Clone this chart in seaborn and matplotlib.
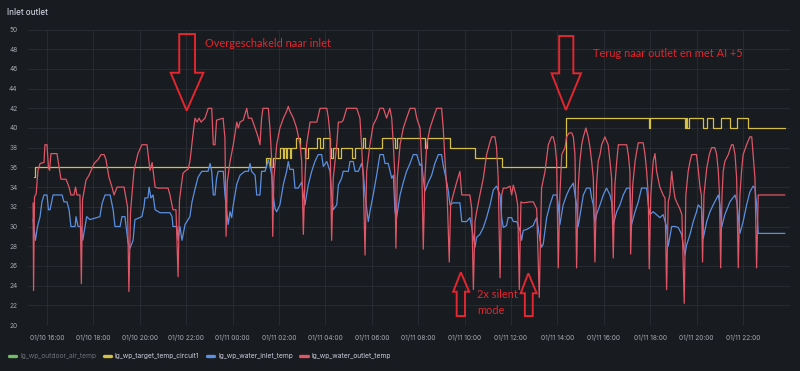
import pandas as pd
import matplotlib
matplotlib.use("Agg")
import matplotlib.pyplot as plt
import matplotlib.dates as mdates
from matplotlib.lines import Line2D
from matplotlib.patches import Polygon
import seaborn as sns

BASE = pd.Timestamp("2024-01-10")  # times below are hours since 01/10 00:00

series_names = ["lg_wp_outdoor_air_temp", "lg_wp_target_temp_circuit1",
                "lg_wp_water_inlet_temp", "lg_wp_water_outlet_temp"]
series_colors = ["#73bf69", "#d6bf45", "#5b8fe0", "#df5667"]
y_ticks = list(range(20, 51, 2))
x_tick_hours = list(range(16, 47, 2))

# target temperature (step changes)
yellow_t = [15.44, 15.48, 25.44, 25.61, 25.74, 26.04, 26.17, 26.22, 26.30, 26.34,
            26.47, 26.52, 26.73, 26.91, 27.12, 27.25, 27.63, 27.77, 27.90, 28.20,
            28.24, 28.33, 28.54, 28.67, 29.15, 29.28, 29.61, 29.71, 30.43, 31.00,
            31.09, 32.29, 32.38, 33.37, 34.45, 35.60, 38.37, 41.95, 41.99, 43.50,
            43.54, 43.61, 43.67, 44.28, 44.45, 44.71, 45.05, 45.44, 45.74, 46.22,
            47.81]
yellow_v = [35, 36, 37, 36, 37, 38, 37, 38, 37, 38,
            37, 38, 39, 38, 37, 38, 39, 38, 39, 38,
            37, 38, 37, 38, 37, 38, 39, 38, 39, 38,
            39, 38, 39, 38, 37, 36, 41, 40, 41, 40,
            41, 40, 41, 40, 41, 40, 41, 40, 41, 40,
            40]

# water inlet temperature
blue_t = [15.40, 15.50, 15.59, 15.70, 15.78, 15.87, 16.00, 16.06, 16.13, 16.26,
          16.65, 16.73, 16.86, 16.95, 17.03, 17.21, 17.25, 17.34, 17.47, 17.54,
          17.71, 17.85, 18.28, 18.37, 18.50, 18.72, 18.85, 18.93, 19.15, 19.23,
          19.36, 19.49, 19.58, 19.71, 19.79, 20.09, 20.18, 20.22, 20.35, 20.40,
          20.48, 20.57, 20.66, 20.87, 21.30, 21.39, 21.43, 21.60, 21.65, 21.73,
          21.82, 21.95, 22.08, 22.16, 22.25, 22.38, 22.51, 22.67, 22.94, 23.03,
          23.10, 23.17, 23.24, 23.31, 23.38, 23.60, 23.67, 23.81, 23.89, 23.96,
          24.03, 24.18, 24.32, 24.53, 24.68, 24.75, 24.82, 24.97, 25.04, 25.18,
          25.25, 25.40, 25.54, 25.69, 25.75, 25.83, 25.90, 26.04, 26.19, 26.33,
          26.40, 26.47, 26.62, 26.69, 26.83, 26.98, 27.05, 27.12, 27.26, 27.41,
          27.55, 27.69, 27.84, 27.91, 28.06, 28.20, 28.27, 28.34, 28.49, 28.56,
          28.70, 28.77, 28.99, 29.06, 29.20, 29.28, 29.42, 29.56, 29.63, 29.71,
          29.85, 29.92, 30.06, 30.21, 30.35, 30.50, 30.57, 30.71, 30.86, 30.93,
          31.00, 31.07, 31.22, 31.36, 31.50, 31.65, 31.79, 31.94, 32.08, 32.15,
          32.22, 32.29, 32.44, 32.58, 32.72, 32.87, 33.01, 33.08, 33.20, 33.30,
          33.37, 33.51, 33.80, 33.88, 34.09, 34.23, 34.31, 34.38, 34.45, 34.52,
          34.66, 34.81, 34.95, 35.10, 35.24, 35.38, 35.53, 35.60, 35.67, 35.81,
          35.88, 36.03, 36.10, 36.25, 36.39, 36.46, 36.53, 36.68, 36.82, 36.96,
          37.03, 37.11, 37.25, 37.32, 37.39, 37.54, 37.68, 37.82, 37.98, 38.04,
          38.11, 38.25, 38.40, 38.54, 38.69, 38.76, 38.83, 38.90, 39.05, 39.12,
          39.26, 39.41, 39.48, 39.55, 39.62, 39.69, 39.84, 39.98, 40.12, 40.27,
          40.34, 40.41, 40.56, 40.70, 40.84, 40.99, 41.13, 41.20, 41.35, 41.49,
          41.63, 41.85, 41.92, 41.99, 42.13, 42.28, 42.42, 42.56, 42.71, 42.78,
          42.93, 43.07, 43.21, 43.36, 43.50, 43.57, 43.72, 43.86, 44.00, 44.07,
          44.22, 44.29, 44.44, 44.58, 44.72, 44.94, 45.01, 45.08, 45.22, 45.44,
          45.66, 45.74, 45.87, 46.01, 46.16, 46.30, 46.44, 46.52, 46.59, 46.66,
          47.81]
blue_v = [30.7, 28.6, 30.0, 31.0, 32.5, 33.2, 33.2, 31.7, 31.7, 33.2,
          33.2, 32.5, 32.5, 31.7, 30.0, 30.0, 31.0, 30.0, 30.0, 28.6,
          31.0, 30.7, 31.0, 32.3, 33.2, 33.2, 31.7, 30.0, 30.0, 31.0,
          31.0, 28.4, 27.8, 28.6, 30.7, 31.0, 32.0, 32.9, 32.9, 34.0,
          32.9, 33.2, 31.7, 31.4, 31.4, 31.0, 30.0, 30.0, 28.6, 30.0,
          28.6, 30.2, 30.7, 31.0, 32.5, 33.8, 35.0, 35.6, 35.6, 36.4,
          35.6, 33.2, 33.2, 34.9, 35.6, 35.6, 33.2, 30.2, 31.5, 30.9,
          32.2, 34.3, 35.2, 35.6, 35.6, 36.4, 35.6, 35.2, 33.2, 33.2,
          35.6, 35.6, 36.8, 35.2, 33.2, 31.8, 31.5, 32.2, 34.3, 35.6,
          36.6, 35.8, 35.8, 33.9, 33.9, 34.5, 33.2, 32.2, 34.2, 35.6,
          36.6, 37.3, 37.3, 36.1, 36.6, 35.6, 33.2, 31.7, 32.2, 34.2,
          34.9, 35.6, 35.6, 36.6, 36.6, 35.6, 35.6, 36.4, 35.6, 33.2,
          30.5, 31.5, 33.2, 35.2, 37.3, 37.3, 36.4, 36.4, 34.9, 35.2,
          31.5, 30.9, 33.2, 34.5, 35.6, 36.4, 37.3, 37.3, 36.2, 36.4,
          34.9, 33.6, 34.5, 35.2, 36.4, 37.3, 37.3, 36.2, 34.9, 33.6,
          32.2, 32.4, 32.4, 30.5, 30.5, 30.9, 29.9, 28.9, 27.9, 28.9,
          29.2, 29.9, 30.9, 32.2, 33.7, 34.1, 33.2, 30.9, 29.9, 30.1,
          30.9, 30.9, 30.5, 30.5, 29.6, 28.6, 29.6, 29.7, 29.9, 30.1,
          30.5, 30.9, 28.6, 27.9, 28.2, 30.9, 32.2, 33.2, 33.2, 32.2,
          30.2, 32.2, 33.2, 33.9, 34.4, 33.2, 32.2, 30.0, 32.2, 33.2,
          33.9, 33.9, 32.9, 32.2, 30.4, 31.2, 32.2, 33.2, 33.9, 33.2,
          32.5, 30.2, 31.5, 32.2, 33.2, 33.9, 33.9, 30.2, 31.5, 32.5,
          33.9, 33.9, 32.2, 31.2, 31.5, 31.2, 30.9, 31.2, 30.0, 28.0,
          30.0, 30.0, 29.9, 29.2, 27.1, 28.1, 29.2, 30.5, 31.5, 32.2,
          31.8, 28.8, 30.5, 31.5, 32.2, 33.2, 32.2, 29.9, 31.2, 32.5,
          33.2, 32.5, 29.3, 30.5, 32.2, 33.5, 34.1, 33.9, 32.2, 29.3,
          29.3]

# water outlet temperature
red_t = [15.40, 15.42, 15.46, 15.53, 15.61, 15.70, 15.87, 15.91, 16.00, 16.06,
         16.11, 16.17, 16.43, 16.52, 16.60, 16.82, 16.95, 17.03, 17.16, 17.23,
         17.29, 17.42, 17.48, 17.53, 17.68, 17.81, 18.03, 18.20, 18.33, 18.46,
         18.54, 18.67, 18.80, 18.89, 19.02, 19.32, 19.47, 19.53, 19.60, 19.75,
         19.92, 20.09, 20.31, 20.44, 20.53, 20.66, 20.78, 21.22, 21.30, 21.43,
         21.56, 21.65, 21.71, 21.86, 21.99, 22.08, 22.16, 22.31, 22.38, 22.47,
         22.55, 22.64, 22.81, 22.95, 23.10, 23.17, 23.24, 23.31, 23.59, 23.67,
         23.72, 23.77, 23.89, 24.03, 24.18, 24.25, 24.32, 24.46, 24.61, 24.68,
         24.82, 24.97, 25.11, 25.18, 25.25, 25.31, 25.54, 25.61, 25.69, 25.73,
         25.78, 25.90, 26.04, 26.19, 26.33, 26.40, 26.47, 26.62, 26.76, 26.91,
         26.98, 27.05, 27.12, 27.19, 27.34, 27.63, 27.77, 28.06, 28.13, 28.20,
         28.27, 28.34, 28.49, 28.56, 28.70, 28.77, 28.92, 29.35, 29.49, 29.56,
         29.63, 29.71, 29.78, 29.92, 30.06, 30.21, 30.35, 30.50, 30.64, 30.78,
         30.86, 30.93, 31.00, 31.04, 31.10, 31.22, 31.36, 31.50, 31.65, 31.86,
         31.94, 32.08, 32.15, 32.22, 32.29, 32.37, 32.51, 32.65, 32.80, 33.01,
         33.08, 33.16, 33.25, 33.34, 33.40, 33.51, 33.66, 33.80, 33.88, 34.23,
         34.31, 34.38, 34.45, 34.52, 34.66, 34.81, 34.95, 35.10, 35.17, 35.31,
         35.38, 35.45, 35.53, 35.60, 35.67, 35.81, 35.96, 36.03, 36.10, 36.22,
         36.29, 36.36, 36.43, 36.53, 36.82, 36.96, 37.11, 37.22, 37.32, 37.47,
         37.61, 37.75, 37.82, 37.90, 37.97, 38.04, 38.11, 38.19, 38.33, 38.40,
         38.51, 38.62, 38.69, 38.76, 38.83, 38.90, 38.97, 39.05, 39.12, 39.23,
         39.33, 39.41, 39.48, 39.55, 39.62, 39.69, 39.76, 39.84, 39.91, 40.05,
         40.19, 40.27, 40.34, 40.41, 40.48, 40.56, 40.63, 40.99, 41.06, 41.13,
         41.16, 41.25, 41.35, 41.42, 41.49, 41.70, 41.78, 41.85, 41.92, 41.96,
         42.03, 42.13, 42.21, 42.28, 42.42, 42.56, 42.64, 42.71, 42.78, 42.85,
         42.93, 43.00, 43.07, 43.14, 43.28, 43.37, 43.47, 43.54, 43.64, 43.72,
         43.79, 44.00, 44.07, 44.15, 44.21, 44.26, 44.32, 44.44, 44.55, 44.65,
         44.79, 44.87, 44.94, 44.99, 45.04, 45.10, 45.15, 45.22, 45.37, 45.51,
         45.58, 45.66, 45.73, 45.80, 45.87, 45.94, 46.01, 46.16, 46.30, 46.38,
         46.44, 46.52, 46.59, 46.66, 47.81]
red_v = [32.4, 23.5, 33.0, 33.3, 35.7, 36.4, 36.5, 38.3, 38.3, 36.0,
         35.7, 37.4, 37.4, 36.0, 34.8, 34.8, 34.0, 33.2, 33.2, 34.0,
         33.2, 33.2, 24.2, 32.7, 34.7, 35.2, 36.4, 36.8, 37.3, 37.3,
         36.8, 35.0, 34.0, 33.2, 34.0, 34.0, 32.0, 23.4, 31.5, 35.7,
         37.4, 38.3, 38.3, 35.7, 36.5, 34.0, 33.9, 33.9, 33.2, 31.7,
         31.7, 24.9, 32.7, 35.4, 35.7, 35.8, 36.6, 39.7, 41.0, 40.6,
         41.0, 40.6, 41.0, 42.0, 42.0, 38.3, 38.3, 40.8, 41.0, 39.0,
         29.0, 34.5, 36.6, 38.3, 40.6, 40.0, 40.6, 40.8, 42.0, 41.0,
         41.0, 40.0, 39.0, 38.3, 41.0, 42.0, 42.0, 40.0, 36.6, 29.0,
         34.9, 38.3, 40.0, 41.0, 41.7, 42.2, 41.7, 41.0, 40.0, 38.3,
         36.6, 29.2, 34.9, 38.3, 40.6, 40.6, 42.0, 42.0, 41.0, 39.3,
         28.6, 34.9, 38.3, 40.6, 40.6, 40.8, 42.0, 42.0, 41.0, 38.3,
         34.9, 27.1, 35.6, 38.3, 40.3, 41.0, 42.0, 42.0, 41.0, 42.0,
         41.0, 38.3, 34.9, 27.8, 34.9, 38.3, 40.0, 41.0, 42.0, 42.0,
         41.0, 40.0, 36.6, 27.7, 34.9, 38.3, 40.0, 41.0, 42.0, 42.0,
         40.0, 36.6, 33.2, 26.4, 32.2, 33.2, 34.5, 35.6, 33.2, 33.2,
         31.8, 23.6, 30.5, 31.5, 33.2, 34.9, 37.3, 38.6, 39.1, 39.1,
         38.0, 34.9, 24.8, 33.2, 33.9, 33.9, 34.1, 33.2, 34.2, 33.2,
         32.2, 23.6, 32.5, 32.4, 32.5, 32.5, 31.8, 22.8, 33.9, 35.6,
         38.3, 39.1, 39.1, 38.3, 36.6, 25.8, 33.2, 37.3, 38.0, 39.1,
         39.5, 39.5, 39.1, 37.3, 25.8, 34.0, 36.6, 38.3, 39.1, 40.0,
         39.1, 38.0, 36.6, 34.9, 26.4, 34.2, 36.6, 37.3, 38.3, 39.1,
         38.3, 36.6, 34.9, 26.8, 34.2, 36.6, 38.3, 38.3, 37.3, 35.6,
         27.2, 34.2, 36.6, 37.6, 38.5, 38.5, 37.3, 35.6, 33.2, 25.7,
         33.2, 36.6, 37.4, 35.6, 34.0, 33.2, 32.9, 23.6, 32.5, 33.2,
         35.6, 34.0, 32.9, 32.5, 31.8, 31.2, 22.2, 33.2, 35.6, 36.6,
         37.3, 37.3, 35.9, 34.0, 33.2, 26.4, 33.2, 35.9, 37.3, 38.0,
         38.0, 37.3, 35.6, 33.2, 25.8, 33.2, 35.6, 36.6, 37.3, 38.3,
         38.3, 37.3, 34.9, 25.8, 33.2, 35.6, 37.3, 38.3, 39.1, 39.1,
         37.3, 34.9, 25.8, 33.2, 33.2]

BG = "#181b1f"
GRID = "#2b2e34"
TICK = "#a9abb3"
TEXT = "#ccccdc"
ANN = "#e3262f"


def frame(t, v, name):
    return pd.DataFrame({"time": BASE + pd.to_timedelta(t, unit="h"),
                         "value": v, "series": name})


df_y = frame(yellow_t, yellow_v, series_names[1])
df_b = frame(blue_t, blue_v, series_names[2])
df_r = frame(red_t, red_v, series_names[3])

sns.set_theme(style="dark")
plt.rcParams["font.family"] = ["Inter", "DejaVu Sans"]

fig = plt.figure(figsize=(8.0, 3.71), dpi=100, facecolor=BG)
ax = fig.add_axes([28 / 800, 1 - 325 / 371, 762 / 800, (325 - 29.5) / 371])
ax.set_facecolor(BG)

sns.lineplot(data=df_y, x="time", y="value", ax=ax, color=series_colors[1],
             lw=0.9, estimator=None, drawstyle="steps-post", legend=False)
sns.lineplot(data=df_b, x="time", y="value", ax=ax, color=series_colors[2],
             lw=0.9, estimator=None, legend=False)
sns.lineplot(data=df_r, x="time", y="value", ax=ax, color=series_colors[3],
             lw=0.9, estimator=None, legend=False)

ax.set_xlim(BASE + pd.Timedelta(hours=15.18), BASE + pd.Timedelta(hours=48.03))
ax.set_ylim(20, 50)
ax.set_yticks(y_ticks)
ax.set_xticks([BASE + pd.Timedelta(hours=h) for h in x_tick_hours])
ax.xaxis.set_major_formatter(mdates.DateFormatter("%m/%d %H:%M"))
ax.grid(True, color=GRID, lw=0.6)
ax.set_axisbelow(True)
for s in ax.spines.values():
    s.set_visible(False)
ax.tick_params(axis="both", length=0, colors=TICK, labelsize=4.7)
ax.tick_params(axis="y", pad=7.5)
ax.tick_params(axis="x", pad=7.0)
ax.set_xlabel("")
ax.set_ylabel("")

fig.text(7 / 800, 1 - 12.7 / 371, "Inlet outlet", color=TEXT, fontsize=5.8,
         fontweight="medium", va="center", ha="left")

handles = [Line2D([0], [0], color=c, lw=2.4, solid_capstyle="round") for c in series_colors]
leg = fig.legend(handles, series_names, loc="center left",
                 bbox_to_anchor=(9 / 800, 1 - 356 / 371), ncol=4, frameon=False,
                 fontsize=4.8, handlelength=1.1, handletextpad=0.6,
                 columnspacing=1.1, borderpad=0, borderaxespad=0)
for i, t in enumerate(leg.get_texts()):
    t.set_color("#6f707a" if i == 0 else TEXT)


def hx(h):
    return mdates.date2num(BASE + pd.Timedelta(hours=h))


def arrow(shaft, head, tip_x, y_end, y_neck, y_tip):
    pts = [(hx(shaft[0]), y_end), (hx(shaft[1]), y_end), (hx(shaft[1]), y_neck),
           (hx(head[1]), y_neck), (hx(tip_x), y_tip), (hx(head[0]), y_neck),
           (hx(shaft[0]), y_neck)]
    ax.add_patch(Polygon(pts, closed=True, fill=False, edgecolor=ANN, lw=1.4,
                         joinstyle="miter", clip_on=False, zorder=5))


arrow((21.70, 22.38), (21.33, 22.74), 22.02, 49.54, 45.61, 41.76)
arrow((38.08, 38.69), (37.75, 39.02), 38.37, 49.34, 45.55, 41.83)
arrow((33.66, 34.02), (33.51, 34.20), 33.84, 20.91, 23.38, 25.35)
arrow((36.60, 36.94), (36.42, 37.11), 36.75, 20.91, 23.22, 25.25)

ann_kw = dict(color=ANN, fontsize=7.9, family=["Lato", "DejaVu Sans"],
              va="center", ha="left", zorder=6)
ax.text(hx(22.81), 48.53, "Overgeschakeld naar inlet", **ann_kw)
ax.text(hx(39.52), 47.58, "Terug naar outlet en met AI +5", **ann_kw)
ax.text(hx(34.55), 23.12, "2x silent", **ann_kw)
ax.text(hx(34.55), 21.50, "mode", **ann_kw)

fig.savefig("out.png", dpi=100, facecolor=BG)
